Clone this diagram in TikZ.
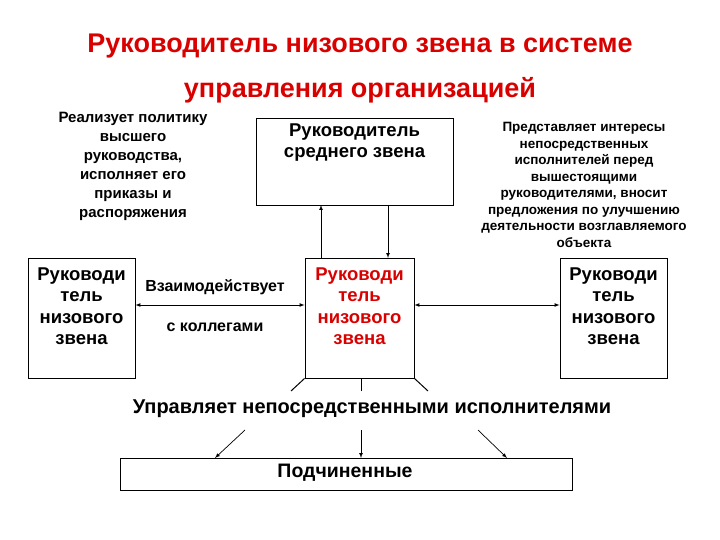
\documentclass[tikz,border=0pt]{standalone}
\usepackage{fontspec}
\setmainfont{Liberation Sans}
\begin{document}
\begin{tikzpicture}[x=1pt,y=-1pt,
 box/.style={draw,line width=0.8pt,inner sep=0},
 big/.style={font=\fontsize{18.5}{21.5}\selectfont\bfseries,align=center},
 arr/.style={-latex,line width=0.7pt},
 ln/.style={line width=1pt}]
\useasboundingbox (0,0) rectangle (720,540);
\node[red!85!black,font=\fontsize{27}{45}\selectfont\bfseries,align=center] (title) at (360,69) {Руководитель низового звена в системе\\управления организацией};
\node[box,minimum width=197pt,minimum height=87pt] (mid) at (354.5,161.5) {};
\node[big,anchor=north] (midt) at (354.5,120) {Руководитель\\среднего звена};
\node[box,minimum width=107pt,minimum height=120pt] (L) at (81.5,318) {};
\node[box,minimum width=109pt,minimum height=120pt] (C) at (359.5,318) {};
\node[box,minimum width=107pt,minimum height=120pt] (R) at (613.5,318) {};
\node[big,anchor=north] (Lt) at (81.5,264) {Руководи\\тель\\низового\\звена};
\node[big,anchor=north,red!85!black] (Ct) at (359.5,264) {Руководи\\тель\\низового\\звена};
\node[big,anchor=north] (Rt) at (613.5,264) {Руководи\\тель\\низового\\звена};
\node[font=\fontsize{15}{19}\selectfont\bfseries,align=center] (lt) at (133,166) {Реализует политику\\высшего\\руководства,\\исполняет его\\приказы и\\распоряжения};
\node[font=\fontsize{13.5}{16.5}\selectfont\bfseries,align=center] (rt) at (584,185) {Представляет интересы\\непосредственных\\исполнителей перед\\вышестоящими\\руководителями, вносит\\предложения по улучшению\\деятельности возглавляемого\\объекта};
\node[font=\fontsize{16}{18}\selectfont\bfseries] (w1) at (215,287) {Взаимодействует};
\node[font=\fontsize{16}{18}\selectfont\bfseries] (w2) at (215,327) {с коллегами};
\draw[latex-latex,line width=0.7pt] (L.east|-0,305) -- (C.west|-0,305);
\draw[latex-latex,line width=0.7pt] (C.east|-0,305) -- (R.west|-0,305);
\draw[arr] (321,258) -- (321,205);
\draw[arr] (388,205) -- (388,258);
\node[font=\fontsize{20}{22}\selectfont\bfseries] (upr) at (372,409) {Управляет непосредственными исполнителями};
\draw[ln] (C.south west) -- (291,391);
\draw[ln] (361,378) -- (361,391);
\draw[ln] (C.south east) -- (428,391);
\node[box,minimum width=452pt,minimum height=32pt] (P) at (346,474) {};
\node[font=\fontsize{19.5}{22}\selectfont\bfseries] (Pt) at (345,473) {Подчиненные};
\draw[arr] (245,430) -- (215,458);
\draw[arr] (361,430) -- (361,458);
\draw[arr] (478,430) -- (507,458);
\end{tikzpicture}
\end{document}
